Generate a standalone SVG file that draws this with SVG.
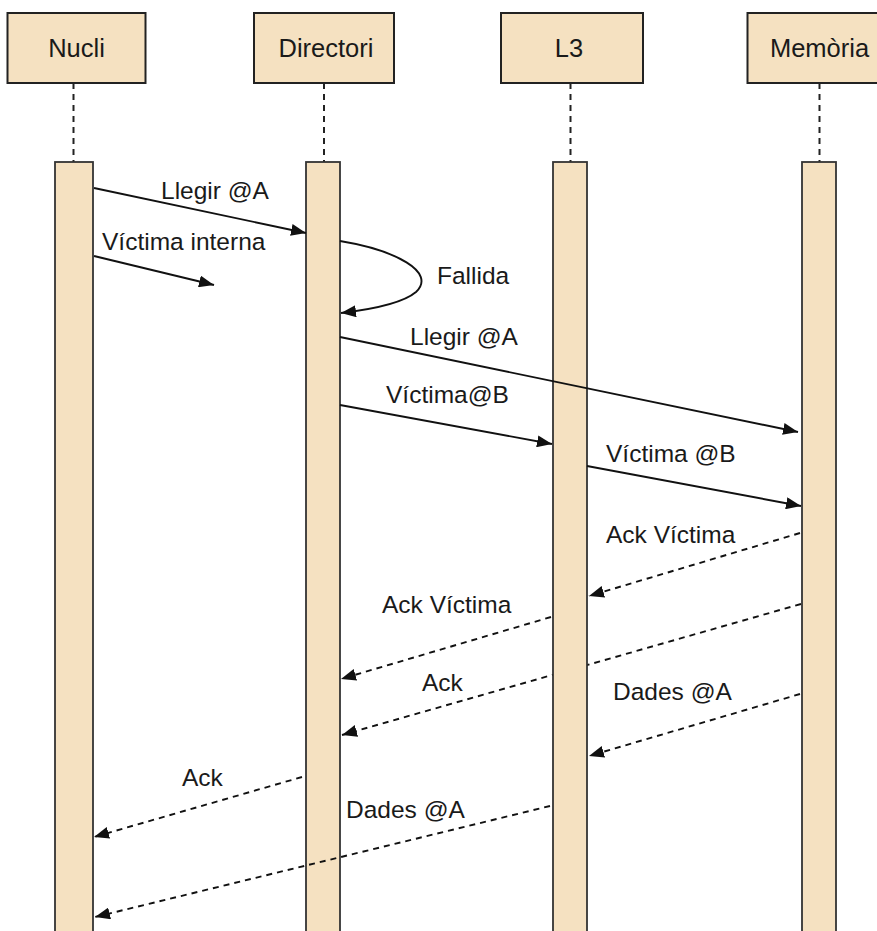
<svg xmlns="http://www.w3.org/2000/svg" width="877" height="931" viewBox="0 0 877 931">
<defs>
<style>
.box{fill:#F5E1C1;stroke:#222;stroke-width:2}
.bar{fill:#F5E1C1;stroke:#333;stroke-width:1.8}
.life{stroke:#222;stroke-width:2;stroke-dasharray:6 5;fill:none}
.msg{stroke:#111;stroke-width:1.9;fill:none}
.ret{stroke:#111;stroke-width:1.9;fill:none;stroke-dasharray:6 5}
text{font-family:"Liberation Sans",Arial,sans-serif;font-size:24.5px;fill:#1a1a1a}
.c{text-anchor:middle;font-size:25.5px}
</style>
<marker id="ah" markerUnits="userSpaceOnUse" markerWidth="16" markerHeight="12" refX="15" refY="6" orient="auto">
<path d="M0,0 L15,6 L0,12 z" fill="#111"/>
</marker>
</defs>
<rect width="877" height="931" fill="#fff"/>
<g id="nucli">
<rect class="box" x="7.5" y="13" width="138" height="70"/>
<text class="c" x="76.5" y="57">Nucli</text>
<line class="life" x1="73.5" y1="83" x2="73.5" y2="162"/>
<rect class="bar" x="55" y="162" width="38" height="780"/>
</g>
<g id="directori">
<rect class="box" x="254" y="13" width="140" height="70"/>
<text class="c" x="326" y="57">Directori</text>
<line class="life" x1="324" y1="83" x2="324" y2="162"/>
<rect class="bar" x="306" y="162" width="34" height="780"/>
</g>
<g id="l3">
<rect class="box" x="501" y="13" width="142" height="70"/>
<text class="c" x="569" y="57">L3</text>
<line class="life" x1="570.5" y1="83" x2="570.5" y2="162"/>
</g>
<g id="connectors-behind">
<line class="ret" x1="801" y1="604" x2="342" y2="735" marker-end="url(#ah)"/>
</g>
<g id="l3bar">
<rect class="bar" x="553" y="162" width="34" height="780"/>
</g>
<g id="memoria">
<rect class="box" x="747.5" y="13" width="145" height="70"/>
<text class="c" x="819.5" y="57">Memòria</text>
<line class="life" x1="819.5" y1="83" x2="819.5" y2="162"/>
<rect class="bar" x="802" y="162" width="34" height="780"/>
</g>
<g id="connectors">
<line class="msg" x1="94" y1="188" x2="306" y2="233" marker-end="url(#ah)"/>
<line class="msg" x1="94" y1="256" x2="214" y2="285" marker-end="url(#ah)"/>
<path class="msg" d="M340,241 C395,250 437,272 416,292 C403,303 375,309 341,313" marker-end="url(#ah)"/>
<line class="msg" x1="340" y1="337" x2="798" y2="432" marker-end="url(#ah)"/>
<line class="msg" x1="340" y1="405" x2="552" y2="444" marker-end="url(#ah)"/>
<line class="msg" x1="587" y1="466" x2="801" y2="506" marker-end="url(#ah)"/>
<line class="ret" x1="800" y1="533" x2="589" y2="596" marker-end="url(#ah)"/>
<line class="ret" x1="551" y1="617" x2="341" y2="679" marker-end="url(#ah)"/>
<line class="ret" x1="800" y1="694" x2="589" y2="756" marker-end="url(#ah)"/>
<line class="ret" x1="302" y1="777" x2="94" y2="837" marker-end="url(#ah)"/>
<line class="ret" x1="550" y1="806" x2="95" y2="917" marker-end="url(#ah)"/>
</g>
<g id="labels">
<text x="161" y="199">Llegir @A</text>
<text x="102" y="250">Víctima interna</text>
<text x="437" y="284">Fallida</text>
<text x="410" y="345">Llegir @A</text>
<text x="386" y="403">Víctima@B</text>
<text x="606" y="462">Víctima @B</text>
<text x="606" y="543">Ack Víctima</text>
<text x="382" y="613">Ack Víctima</text>
<text x="422" y="691">Ack</text>
<text x="613" y="700">Dades @A</text>
<text x="182" y="786">Ack</text>
<text x="346" y="818">Dades @A</text>
</g>
</svg>
